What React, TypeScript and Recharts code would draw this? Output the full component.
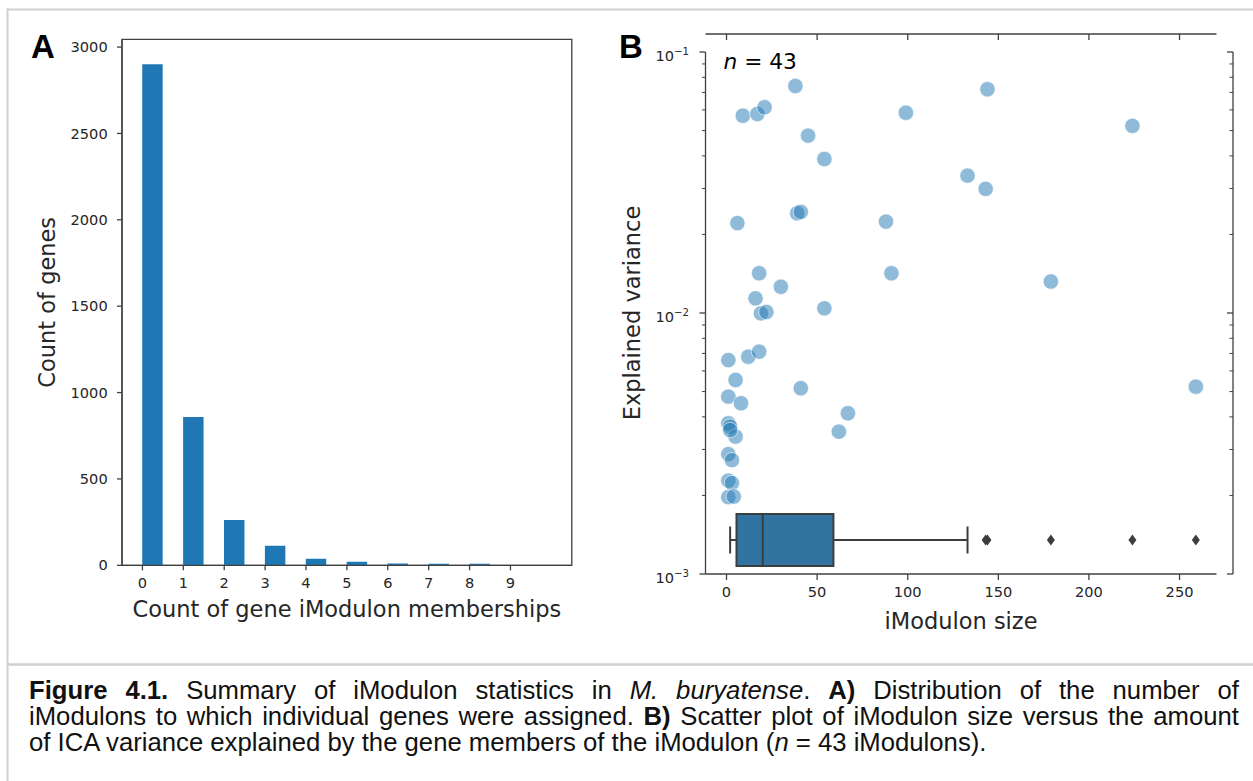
import React from 'react';
import {
  BarChart,
  Bar,
  XAxis,
  YAxis,
  ReferenceArea,
  ReferenceLine,
  ScatterChart,
  Scatter,
  ComposedChart,
} from 'recharts';

// ---------------- Panel A data ----------------
const memberships = [0, 1, 2, 3, 4, 5, 6, 7, 8, 9];
const geneCounts = [2900, 859, 262, 113, 38, 20, 10, 9, 9, 1];
const countTicks = [0, 500, 1000, 1500, 2000, 2500, 3000];
const BIN_WIDTH = 0.5;

// ---------------- Panel B data ----------------
const imodulonSize = [
  38, 9, 17, 21, 45, 54, 6, 39, 41, 88, 18, 30, 16, 19, 22, 54, 91, 99, 144, 133, 143, 179, 224, 259,
  1, 12, 18, 5, 1, 8, 41, 67, 62, 1, 2, 5, 1, 3, 1, 3, 1, 4, 2,
];
const explainedVariance = [
  0.0741, 0.057, 0.0579, 0.0614, 0.0478, 0.0389, 0.0221, 0.0241, 0.0244, 0.0224, 0.0142, 0.0126,
  0.01138, 0.00997, 0.01009, 0.01042, 0.0142, 0.0585, 0.072, 0.0336, 0.0299, 0.0132, 0.0521, 0.00522,
  0.0066, 0.0068, 0.00711, 0.00554, 0.00478, 0.00451, 0.00515, 0.00413, 0.00351, 0.00378, 0.00367,
  0.00336, 0.00288, 0.00273, 0.00228, 0.00223, 0.00197, 0.00198, 0.00356,
];
const sizeTicks = [0, 50, 100, 150, 200, 250];
const varianceDecades = [0.001, 0.01, 0.1];

// box plot summary of iModulon size
const boxQ1 = 5.5;
const boxMedian = 20;
const boxQ3 = 59;
const whiskerLow = 2;
const whiskerHigh = 133;

// ---------------- styles ----------------
const SPINE = '#404040';
const TEXT = '#262626';
const MPL_FONT = '"DejaVu Sans", Verdana, sans-serif';
const DOC_FONT = '"Liberation Sans", Arial, Helvetica, sans-serif';
const TICK_FONT = 14.6;
const LABEL_FONT = 22.5;

// Panel A geometry
const A_W = 600;
const A_H = 660;
const A_LEFT = 122;
const A_RIGHT = 571.8;
const A_TOP = 39.3;
const A_BOTTOM = 565.3;
const A_XDOM: [number, number] = [-0.5, 10.5];
const A_YDOM: [number, number] = [0, 3045];

// Panel B geometry
const B_W = 1253;
const B_H = 660;
const B_LEFT = 705.5;
const B_RIGHT_SCATTER = 1233;
const B_RIGHT_BOX = 1216.5;
const B_TOP_SCATTER = 52;
const B_TOP_BOX = 34;
const B_BOTTOM = 574;
const X_MIN = -11.6;
const X_MAX_BOX = 270.4;
const X_MAX_SCATTER = 279.5;
const BOX_AXIS: [number, number] = [0, 10];
const BOX_Y = 0.63;
const BOX_HALF = 0.48;
const CAP_HALF = 0.25;

const barData = memberships.map((m, i) => ({ x: m + BIN_WIDTH / 2, count: geneCounts[i] }));
const scatterData = imodulonSize.map((s, i) => ({ size: s, variance: explainedVariance[i] }));
const outlierData = imodulonSize.filter((s) => s > whiskerHigh).map((s) => ({ size: s, pos: BOX_Y }));

const logTicks: number[] = [];
for (let d = 0; d < varianceDecades.length; d++) {
  const base = varianceDecades[d];
  logTicks.push(base);
  if (d < varianceDecades.length - 1) {
    for (let k = 2; k <= 9; k++) logTicks.push(+(base * k).toPrecision(3));
  }
}

const barSizePx = ((A_RIGHT - A_LEFT) / (A_XDOM[1] - A_XDOM[0])) * BIN_WIDTH;

const isDecade = (v: number) => Math.abs(Math.log10(v) - Math.round(Math.log10(v))) < 1e-6;

const LogTick = (props: any) => {
  const { x, y, payload, side } = props;
  const v = payload.value;
  const major = isDecade(v);
  const len = major ? 6 : 3.5;
  const exp = Math.round(Math.log10(v));
  return (
    <g>
      <line x1={x} x2={x - len} y1={y} y2={y} stroke={SPINE} strokeWidth={major ? 1.3 : 1} />
      {major && side === 'left' && (
        <text x={x - 16.5} y={y + 9} textAnchor="end" fontFamily={MPL_FONT} fontSize={TICK_FONT} fill={TEXT}>
          10
          <tspan dy={-6} fontSize={10.2}>
            {'\u2212' + String(-exp)}
          </tspan>
        </text>
      )}
    </g>
  );
};

const InwardTopTick = (props: any) => {
  const { x, y } = props;
  return <line x1={x} x2={x} y1={y} y2={y + 6} stroke={SPINE} strokeWidth={1.3} />;
};

const BottomLabel = (props: any) => {
  const { viewBox, text, dy } = props;
  const { x, y, width } = viewBox;
  return (
    <text x={x + width / 2} y={y + dy} textAnchor="middle" fontFamily={MPL_FONT} fontSize={LABEL_FONT} fill={TEXT}>
      {text}
    </text>
  );
};

const LeftLabel = (props: any) => {
  const { viewBox, text, dx } = props;
  const { x, y, height } = viewBox;
  const cx = x + dx;
  const cy = y + height / 2;
  return (
    <text
      x={cx}
      y={cy}
      transform={`rotate(-90, ${cx}, ${cy})`}
      textAnchor="middle"
      dominantBaseline="central"
      fontFamily={MPL_FONT}
      fontSize={LABEL_FONT}
      fill={TEXT}
    >
      {text}
    </text>
  );
};

const Dot = (props: any) => {
  const { cx, cy } = props;
  return <circle cx={cx} cy={cy} r={7.7} fill="#1f77b4" fillOpacity={0.5} stroke="#ffffff" strokeOpacity={0.6} strokeWidth={1} />;
};

const Diamond = (props: any) => {
  const { cx, cy } = props;
  return (
    <path
      d={`M${cx},${cy - 5.5} L${cx + 4},${cy} L${cx},${cy + 5.5} L${cx - 4},${cy} Z`}
      fill="#3d3d3d"
    />
  );
};

const tickStyle = { fontFamily: MPL_FONT, fontSize: TICK_FONT, fill: TEXT };
const lineStyle = { stroke: SPINE, strokeWidth: 1.3 };

function PanelA() {
  return (
    <BarChart
      width={A_W}
      height={A_H}
      data={barData}
      margin={{ top: A_TOP, right: A_W - A_RIGHT, bottom: A_H - A_BOTTOM - 60, left: A_LEFT - 122 }}
    >
      <XAxis
        type="number"
        dataKey="x"
        domain={A_XDOM}
        allowDataOverflow
        ticks={memberships}
        interval={0}
        height={60}
        tickSize={5}
        tickMargin={7}
        tick={tickStyle}
        axisLine={lineStyle}
        tickLine={lineStyle}
        label={<BottomLabel text="Count of gene iModulon memberships" dy={51.7} />}
      />
      <YAxis
        type="number"
        domain={A_YDOM}
        allowDataOverflow
        ticks={countTicks}
        interval={0}
        width={122}
        tickSize={5}
        tickMargin={9.3}
        tick={tickStyle}
        axisLine={lineStyle}
        tickLine={lineStyle}
        label={<LeftLabel text="Count of genes" dx={47} />}
      />
      <ReferenceArea
        x1={A_XDOM[0]}
        x2={A_XDOM[1]}
        y1={A_YDOM[0]}
        y2={A_YDOM[1]}
        fill="none"
        fillOpacity={0}
        stroke={SPINE}
        strokeWidth={1.3}
      />
      <Bar dataKey="count" fill="#1f77b4" barSize={barSizePx} isAnimationActive={false} />
    </BarChart>
  );
}

function PanelBScatter() {
  return (
    <ScatterChart
      width={B_W}
      height={B_H}
      margin={{ top: B_TOP_SCATTER, right: B_W - B_RIGHT_SCATTER - 10, bottom: B_H - B_BOTTOM, left: B_LEFT - 90 }}
    >
      <XAxis type="number" dataKey="size" domain={[X_MIN, X_MAX_SCATTER]} allowDataOverflow hide />
      <YAxis
        yAxisId="left"
        type="number"
        dataKey="variance"
        scale="log"
        domain={[0.001, 0.1]}
        allowDataOverflow
        ticks={logTicks}
        interval={0}
        width={90}
        tickSize={0}
        tickMargin={0}
        tickLine={false}
        axisLine={lineStyle}
        tick={<LogTick side="left" />}
        label={<LeftLabel text="Explained variance" dx={16.5} />}
      />
      <YAxis
        yAxisId="right"
        orientation="right"
        type="number"
        dataKey="variance"
        scale="log"
        domain={[0.001, 0.1]}
        allowDataOverflow
        ticks={logTicks}
        interval={0}
        width={10}
        tickSize={0}
        tickMargin={0}
        tickLine={false}
        axisLine={lineStyle}
        tick={<LogTick side="right" />}
      />
      <Scatter yAxisId="left" data={scatterData} shape={<Dot />} isAnimationActive={false} />
    </ScatterChart>
  );
}

function PanelBBox() {
  const boxLo = BOX_Y - BOX_HALF;
  const boxHi = BOX_Y + BOX_HALF;
  const seg = { stroke: '#3d3d3d', strokeWidth: 2 };
  return (
    <ComposedChart
      width={B_W}
      height={B_H}
      data={outlierData}
      margin={{ top: B_TOP_BOX - 2, right: B_W - B_RIGHT_BOX, bottom: B_H - B_BOTTOM - 70, left: B_LEFT }}
    >
      <XAxis
        xAxisId="bottom"
        type="number"
        dataKey="size"
        domain={[X_MIN, X_MAX_BOX]}
        allowDataOverflow
        ticks={sizeTicks}
        interval={0}
        height={70}
        tickSize={6}
        tickMargin={7}
        tick={tickStyle}
        axisLine={lineStyle}
        tickLine={lineStyle}
        label={<BottomLabel text="iModulon size" dy={55} />}
      />
      <XAxis
        xAxisId="top"
        orientation="top"
        type="number"
        dataKey="size"
        domain={[X_MIN, X_MAX_BOX]}
        allowDataOverflow
        ticks={sizeTicks}
        interval={0}
        height={2}
        tickSize={0}
        tickMargin={0}
        tickLine={false}
        tick={<InwardTopTick />}
        axisLine={lineStyle}
      />
      <YAxis yAxisId="box" type="number" dataKey="pos" domain={BOX_AXIS} allowDataOverflow hide />
      <ReferenceLine xAxisId="bottom" yAxisId="box" segment={[{ x: whiskerLow, y: BOX_Y }, { x: boxQ1, y: BOX_Y }]} {...seg} />
      <ReferenceLine xAxisId="bottom" yAxisId="box" segment={[{ x: boxQ3, y: BOX_Y }, { x: whiskerHigh, y: BOX_Y }]} {...seg} />
      <ReferenceLine
        xAxisId="bottom"
        yAxisId="box"
        segment={[{ x: whiskerLow, y: BOX_Y - CAP_HALF }, { x: whiskerLow, y: BOX_Y + CAP_HALF }]}
        {...seg}
      />
      <ReferenceLine
        xAxisId="bottom"
        yAxisId="box"
        segment={[{ x: whiskerHigh, y: BOX_Y - CAP_HALF }, { x: whiskerHigh, y: BOX_Y + CAP_HALF }]}
        {...seg}
      />
      <ReferenceArea
        xAxisId="bottom"
        yAxisId="box"
        x1={boxQ1}
        x2={boxQ3}
        y1={boxLo}
        y2={boxHi}
        fill="#3274a1"
        fillOpacity={1}
        stroke="#3d3d3d"
        strokeWidth={2}
      />
      <ReferenceLine xAxisId="bottom" yAxisId="box" segment={[{ x: boxMedian, y: boxLo }, { x: boxMedian, y: boxHi }]} {...seg} />
      <Scatter xAxisId="bottom" yAxisId="box" dataKey="pos" shape={<Diamond />} isAnimationActive={false} />
    </ComposedChart>
  );
}

const CAPTION_PITCH = 26;
const captionLine: React.CSSProperties = {
  height: CAPTION_PITCH,
  lineHeight: `${CAPTION_PITCH}px`,
  whiteSpace: 'normal',
};

export default function App() {
  return (
    <div
      style={{
        position: 'absolute',
        left: 0,
        top: 0,
        width: 1253,
        height: 781,
        overflow: 'hidden',
        background: '#ffffff',
      }}
    >
      <div style={{ position: 'absolute', left: 0, top: 0 }}>
        <PanelA />
      </div>
      <div style={{ position: 'absolute', left: 0, top: 0 }}>
        <PanelBScatter />
      </div>
      <div style={{ position: 'absolute', left: 0, top: 0 }}>
        <PanelBBox />
      </div>
      <svg style={{ position: 'absolute', left: 0, top: 0, pointerEvents: 'none' }} width={1253} height={781}>
        <line x1={7} x2={1253} y1={9.5} y2={9.5} stroke="#d0d0d0" strokeWidth={2} />
        <line x1={7.5} x2={7.5} y1={8.5} y2={781} stroke="#d0d0d0" strokeWidth={2} />
        <line x1={7} x2={1253} y1={664.5} y2={664.5} stroke="#d0d0d0" strokeWidth={2.5} />
        <text x={31} y={58} fontFamily={DOC_FONT} fontWeight="bold" fontSize={33} fill="#000">
          A
        </text>
        <text x={619} y={58} fontFamily={DOC_FONT} fontWeight="bold" fontSize={33} fill="#000">
          B
        </text>
        <text x={723.5} y={69} fontFamily={MPL_FONT} fontSize={21.7} fill="#000">
          <tspan fontStyle="italic">n</tspan> = 43
        </text>
      </svg>
      <div
        style={{
          position: 'absolute',
          left: 29,
          top: 677,
          width: 1210,
          fontFamily: DOC_FONT,
          fontSize: 25.7,
          color: '#111',
        }}
      >
        <div style={{ ...captionLine, textAlign: 'justify', textAlignLast: 'justify' }}>
          <b>Figure 4.1.</b> Summary of iModulon statistics in <i>M. buryatense</i>. <b>A)</b> Distribution of the number of
        </div>
        <div style={{ ...captionLine, textAlign: 'justify', textAlignLast: 'justify' }}>
          iModulons to which individual genes were assigned. <b>B)</b> Scatter plot of iModulon size versus the amount
        </div>
        <div style={{ ...captionLine, textAlign: 'left' }}>
          of ICA variance explained by the gene members of the iModulon (<i>n</i> = 43 iModulons).
        </div>
      </div>
    </div>
  );
}
